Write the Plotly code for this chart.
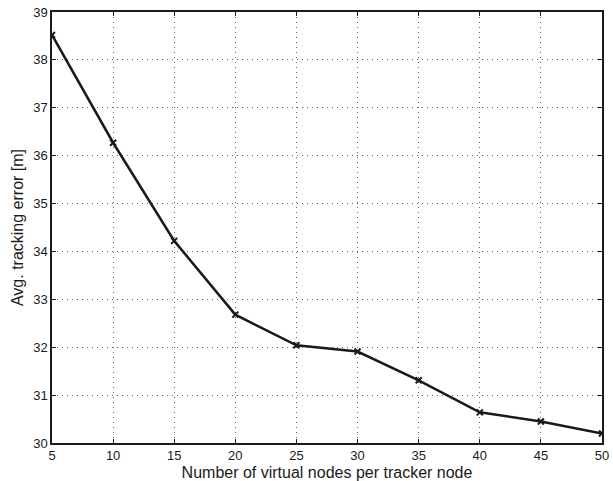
import plotly.graph_objects as go

x_nodes = [5, 10, 15, 20, 25, 30, 35, 40, 45, 50]
avg_error = [38.52, 36.27, 34.22, 32.68, 32.04, 31.91, 31.31, 30.64, 30.45, 30.20]
x_ticks = [5, 10, 15, 20, 25, 30, 35, 40, 45, 50]
y_ticks = [30, 31, 32, 33, 34, 35, 36, 37, 38, 39]

fig = go.Figure()
fig.add_trace(go.Scatter(
    x=x_nodes, y=avg_error, mode="lines+markers",
    line=dict(color="#1a1a1a", width=2.5),
    marker=dict(symbol="x-thin", size=6, color="#1a1a1a", line=dict(color="#1a1a1a", width=2)),
    showlegend=False,
))

axis_common = dict(
    showline=True, linecolor="#1a1a1a", linewidth=1.5, mirror="ticks",
    ticks="inside", ticklen=4, tickcolor="#1a1a1a",
    showgrid=True, gridcolor="#666666", griddash="1px,4px", gridwidth=1,
    zeroline=False, automargin=False,
    tickfont=dict(family="Liberation Sans, Arial, sans-serif", size=13, color="#1a1a1a"),
)

fig.update_layout(
    width=613, height=481,
    margin=dict(l=52, r=11, t=12, b=38),
    plot_bgcolor="white", paper_bgcolor="white",
    xaxis=dict(range=[5, 50], tickvals=x_ticks,
               title=dict(text="Number of virtual nodes per tracker node", standoff=5,
                          font=dict(family="Liberation Sans, Arial, sans-serif", size=16, color="#1a1a1a")),
               **axis_common),
    yaxis=dict(range=[30, 39], tickvals=y_ticks,
               title=dict(text="Avg. tracking error [m]", standoff=6,
                          font=dict(family="Liberation Sans, Arial, sans-serif", size=16, color="#1a1a1a")),
               **axis_common),
)

fig.write_html("out.html")
